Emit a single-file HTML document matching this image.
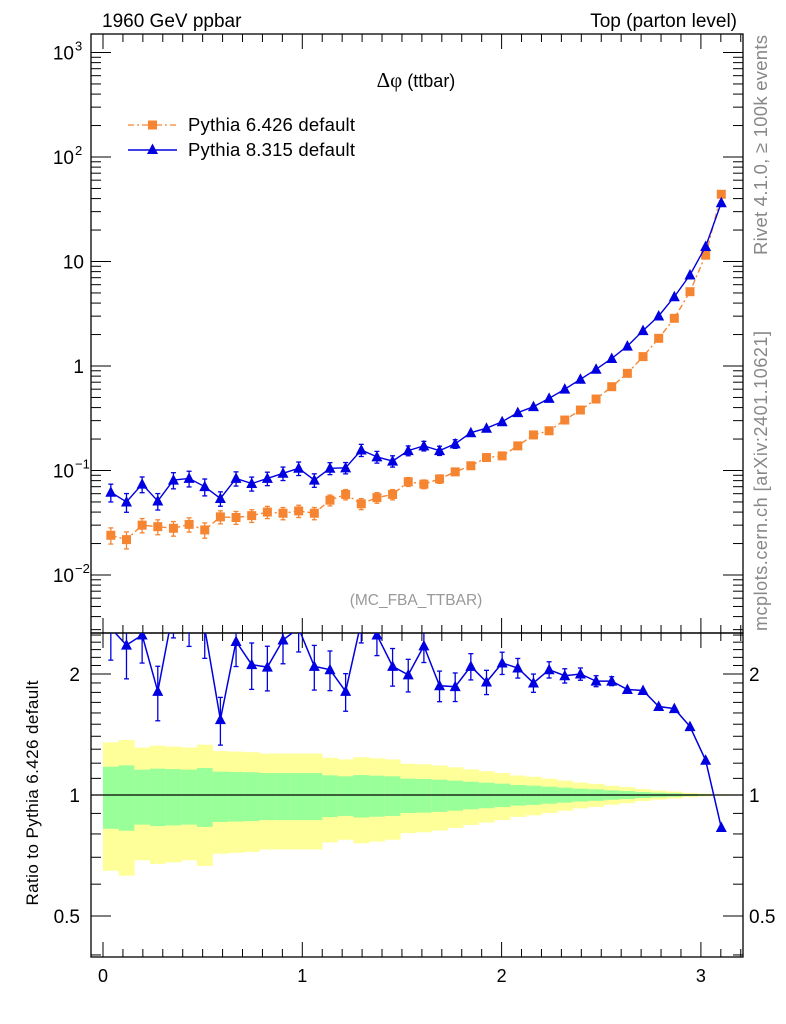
<!DOCTYPE html>
<html><head><meta charset="utf-8">
<style>
html,body{margin:0;padding:0;background:#fff;}
svg{display:block;font-family:"Liberation Sans",sans-serif;}
</style></head>
<body>
<svg id="chart" width="786" height="1024" viewBox="0 0 786 1024" xmlns="http://www.w3.org/2000/svg">
<text x="102" y="27" font-size="19">1960 GeV ppbar</text>
<text x="737" y="27" font-size="19" text-anchor="end">Top (parton level)</text>
<text transform="translate(767,255) rotate(-90)" font-size="18.5" fill="#888" textLength="220">Rivet 4.1.0, ≥ 100k events</text>
<text transform="translate(767,631) rotate(-90)" font-size="18" fill="#888" textLength="300">mcplots.cern.ch [arXiv:2401.10621]</text>
<text x="416" y="87" font-size="18" text-anchor="middle"><tspan font-family="'Liberation Serif',serif" font-size="21">Δφ</tspan> (ttbar)</text>
<text x="416" y="605" font-size="15.5" fill="#999" text-anchor="middle">(MC_FBA_TTBAR)</text>
<text transform="translate(38,793) rotate(-90)" font-size="17" text-anchor="middle" textLength="225">Ratio to Pythia 6.426 default</text>
<g>
 <g>
  <line x1="128" y1="125" x2="177" y2="125" stroke="#f68532" stroke-width="1.3" stroke-dasharray="6,3,2,3"/>
  <rect x="148" y="120.5" width="9" height="9" fill="#f68532"/>
  <text x="188" y="131" font-size="18.5" textLength="167">Pythia 6.426 default</text>
 </g>
 <g>
  <line x1="128" y1="150" x2="177" y2="150" stroke="#0000e0" stroke-width="1.5"/>
  <polygon points="152.5,143.5 158,154 147,154" fill="#0000e0"/>
  <text x="188" y="156" font-size="18.5" textLength="167">Pythia 8.315 default</text>
 </g>
</g>
<g id="bands"></g>
<g id="axes"></g>
<g id="marks"></g>
</svg>
<script>
const nBins = 40;
const xMax = Math.PI;
const p6Values = [0.024,0.0218,0.030,0.029,0.028,0.0305,0.027,0.036,0.0355,0.037,0.040,0.039,0.041,0.039,0.052,0.059,0.048,0.055,0.059,0.078,0.074,0.083,0.097,0.111,0.133,0.138,0.172,0.219,0.240,0.304,0.379,0.483,0.634,0.851,1.23,1.84,2.86,5.14,11.5,44];
const p8Values = [0.062,0.050,0.074,0.051,0.081,0.084,0.070,0.054,0.084,0.075,0.084,0.094,0.105,0.081,0.105,0.106,0.157,0.135,0.123,0.155,0.172,0.155,0.180,0.230,0.254,0.293,0.358,0.408,0.49,0.60,0.746,0.93,1.18,1.55,2.18,3.01,4.6,7.43,13.9,36.5];
const ratioValues = [2.6,2.36,2.5,1.81,2.9,2.75,2.6,1.54,2.41,2.11,2.08,2.43,2.6,2.09,2.05,1.81,2.7,2.5,2.09,1.99,2.35,1.87,1.86,2.09,1.91,2.13,2.07,1.90,2.05,1.98,2.00,1.92,1.92,1.83,1.82,1.66,1.64,1.48,1.22,0.83];
const relErr = [0.176,0.185,0.156,0.163,0.16,0.156,0.167,0.143,0.141,0.139,0.134,0.134,0.134,0.134,0.119,0.113,0.121,0.117,0.113,0.098,0.096,0.092,0.086,0.079,0.073,0.067,0.059,0.055,0.049,0.043,0.037,0.033,0.027,0.023,0.017,0.013,0.01,0.006,0.004,0.002];
const xTickLabels = ["0","1","2","3"];
const mainTickLabels = [[3,"10","3"],[2,"10","2"],[1,"10",""],[0,"1",""],[-1,"10","−1"],[-2,"10","−2"]];
const ratioTickLabels = [[2,"2"],[1,"1"],[0.5,"0.5"]];

const NS="http://www.w3.org/2000/svg";
const L=91,R=743,T=34,MB=633,RB=957;
const X=v=>103+v*199.3;
const YM=v=>366-104.5*Math.log10(v);
const YR=v=>795-121*Math.log2(v);
function mk(tag,attrs,parent){const e=document.createElementNS(NS,tag);for(const k in attrs)e.setAttribute(k,attrs[k]);parent.appendChild(e);return e;}
const axes=document.getElementById('axes'),marks=document.getElementById('marks'),bands=document.getElementById('bands');
const bw=xMax/nBins;
const clipR=mk('clipPath',{id:'clipR'},axes);mk('rect',{x:L,y:MB,width:R-L,height:RB-MB},clipR);
const clipM=mk('clipPath',{id:'clipM'},axes);mk('rect',{x:L,y:T,width:R-L,height:MB-T},clipM);

for(let i=0;i<nBins;i++){
  const x0=X(i*bw),x1=X((i+1)*bw),e=relErr[i];
  const y=mk('rect',{x:x0,y:YR(1+2*e),width:x1-x0+0.3,height:YR(1-2*e)-YR(1+2*e),fill:'#ffff99'},bands);
  
  
  const g=mk('rect',{x:x0,y:YR(1+e),width:x1-x0+0.3,height:YR(1-e)-YR(1+e),fill:'#99ff99'},bands);
  
  
}
const ref=mk('line',{x1:L,x2:R,y1:YR(1),y2:YR(1),stroke:'#000','stroke-width':1.3},bands);



const f1=mk('rect',{x:L,y:T,width:R-L,height:MB-T,fill:'none',stroke:'#000','stroke-width':1.3},axes);


const f2=mk('rect',{x:L,y:MB,width:R-L,height:RB-MB,fill:'none',stroke:'#000','stroke-width':1.3},axes);



for(let k=0;k<=32;k++){const v=k/10,x=X(v);if(x>R)break;const len=k%10===0?15:8;
  for(const [y0,d] of [[MB,-1],[T,1],[RB,-1],[MB,1]]){mk('line',{x1:x,x2:x,y1:y0,y2:y0+d*len,stroke:'#000','stroke-width':1},axes);}
}
xTickLabels.forEach((s,i)=>{const t=mk('text',{x:X(i),y:RB+25,'font-size':18,'text-anchor':'middle'},axes);t.textContent=s;
  
  });
for(let d=-3;d<=3;d++){for(let m=1;m<=9;m++){const v=m*Math.pow(10,d),y=YM(v);if(y<T||y>MB)continue;const len=m===1?20:10;
  mk('line',{x1:L,x2:L+len,y1:y,y2:y,stroke:'#000','stroke-width':1},axes);mk('line',{x1:R,x2:R-len,y1:y,y2:y,stroke:'#000','stroke-width':1},axes);}}
mainTickLabels.forEach(([p,b,s])=>{const y=YM(Math.pow(10,p))+7;
  const t=mk('text',{x:s?74:84,y:y,'font-size':19,'text-anchor':'end'},axes);t.textContent=b;
  
  
  if(s){const u=mk('text',{x:75,y:y-9,'font-size':13},axes);u.textContent=s;}});
for(let k=4;k<=25;k++){const v=k/10,y=YR(v);if(y<MB||y>RB)continue;const maj=(k===5||k===10||k===20);const len=maj?20:10;
  mk('line',{x1:L,x2:L+len,y1:y,y2:y,stroke:'#000','stroke-width':1},axes);mk('line',{x1:R,x2:R-len,y1:y,y2:y,stroke:'#000','stroke-width':1},axes);}
ratioTickLabels.forEach(([v,s])=>{const y=YR(v)+7;
  const a=mk('text',{x:80,y:y,'font-size':19,'text-anchor':'end'},axes);a.textContent=s;
  
  
  const b=mk('text',{x:749,y:y,'font-size':19},axes);b.textContent=s;
  
  });

function series(vals,color,dash,shape,name){
  const g=mk('g',{'clip-path':'url(#clipM)'},marks);
  
  
  const pts=vals.map((v,i)=>[X((i+0.5)*bw),YM(v)]);
  mk('polyline',{points:pts.map(p=>p.join(',')).join(' '),fill:'none',stroke:color,'stroke-width':1.4,'stroke-dasharray':dash},g);
  vals.forEach((v,i)=>{const [x,y]=pts[i];const e=relErr[i]*(shape==='tri'?1.1:1);
    const y1=YM(v*(1+e)),y2=YM(v*(1-e));
    if(y2-y1>8){mk('line',{x1:x,x2:x,y1:y1,y2:y2,stroke:color,'stroke-width':1.3},g);
      mk('line',{x1:x-2.5,x2:x+2.5,y1:y1,y2:y1,stroke:color,'stroke-width':1.3},g);mk('line',{x1:x-2.5,x2:x+2.5,y1:y2,y2:y2,stroke:color,'stroke-width':1.3},g);}
    let m;
    if(shape==='sq')m=mk('rect',{x:x-4.5,y:y-4.5,width:9,height:9,fill:color},g);
    else m=mk('polygon',{points:`${x},${y-6} ${x+5.5},${y+4.5} ${x-5.5},${y+4.5}`,fill:color},g);
    
    
  });
}
series(p6Values,'#f68532','6,3,2,3','sq','pythia6-series');
series(p8Values,'#0000e0','','tri','pythia8-series');

const rg=mk('g',{'clip-path':'url(#clipR)'},marks);


const rp=ratioValues.map((v,i)=>[X((i+0.5)*bw),YR(v)]);
mk('polyline',{points:rp.map(p=>p.join(',')).join(' '),fill:'none',stroke:'#0000e0','stroke-width':1.5},rg);
ratioValues.forEach((v,i)=>{const [x,y]=rp[i];const e=relErr[i]*0.95;
  const y1=YR(v*(1+e)),y2=YR(v*(1-e));
  if(y2-y1>8){mk('line',{x1:x,x2:x,y1:y1,y2:y2,stroke:'#0000e0','stroke-width':1.3},rg);
    mk('line',{x1:x-2.5,x2:x+2.5,y1:y1,y2:y1,stroke:'#0000e0','stroke-width':1.3},rg);mk('line',{x1:x-2.5,x2:x+2.5,y1:y2,y2:y2,stroke:'#0000e0','stroke-width':1.3},rg);}
  const m=mk('polygon',{points:`${x},${y-6} ${x+5.5},${y+4.5} ${x-5.5},${y+4.5}`,fill:'#0000e0'},rg);
  
  
});
</script>
</body></html>
